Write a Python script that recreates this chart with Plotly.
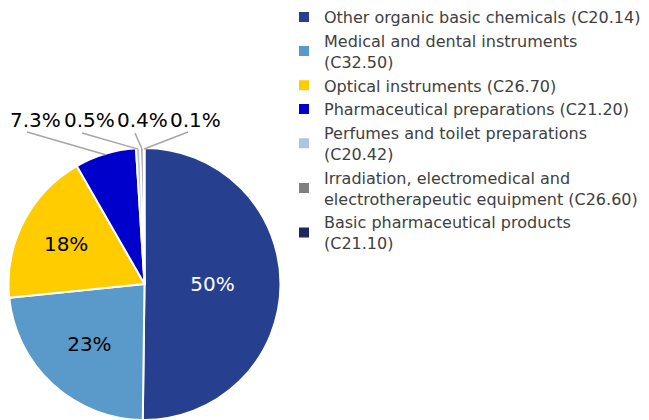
import math
import plotly.graph_objects as go

labels = [
    "Other organic basic chemicals (C20.14)",
    "Medical and dental instruments<br>(C32.50)",
    "Optical instruments (C26.70)",
    "Pharmaceutical preparations (C21.20)",
    "Perfumes and toilet preparations<br>(C20.42)",
    "Irradiation, electromedical and<br>electrotherapeutic equipment (C26.60)",
    "Basic pharmaceutical products<br>(C21.10)",
]
values = [50.2, 23.2, 18.3, 7.3, 0.5, 0.4, 0.1]
colors = ["#26408f", "#5a9aca", "#ffcc00", "#0000cc", "#adc5e0", "#808080", "#1b2a5c"]
text_colors = ["#ffffff", "#000000", "#000000", "#000000", "#000000", "#000000", "#000000"]
positions = ["inside", "inside", "inside", "none", "none", "none", "none"]

# layout of the external labels (pixel positions of label centers and leader-line starts)
ext_label_x = [35, 89, 142.5, 195.5]
ext_label_y = 120
ext_line_start = [(27, 132), (82, 133), (135, 133), (188, 132)]

W, H = 649, 420
cx, cy, r = 144.5, 284, 136

fig = go.Figure(go.Pie(
    labels=labels,
    values=values,
    sort=False,
    direction="clockwise",
    rotation=0,
    marker=dict(colors=colors, line=dict(color="white", width=2)),
    texttemplate="%{percent:.2~p}",
    textposition=positions,
    insidetextorientation="horizontal",
    textfont=dict(family="DejaVu Sans", size=20, color=text_colors),
    domain=dict(x=[(cx - r) / W, (cx + r) / W], y=[max(0, (H - cy - r) / H), (H - cy + r) / H]),
    hoverinfo="label+percent",
))

total = sum(values)
cum = 0.0
mids = []
for v in values:
    mids.append((cum + v / 2) / total)
    cum += v

px = lambda x: x / W
py = lambda y: 1 - y / H

for k, i in enumerate(range(3, 7)):
    pct = values[i] / total * 100
    txt = f"{pct:.1f}%"
    theta = 2 * math.pi * mids[i]
    ex = cx + (r - 1) * math.sin(theta)
    ey = cy - (r - 1) * math.cos(theta)
    sx, sy = ext_line_start[k]
    fig.add_shape(type="line", xref="paper", yref="paper",
                  x0=px(sx), y0=py(sy), x1=px(ex), y1=py(ey),
                  line=dict(color="#a6a6a6", width=1.5))
    fig.add_annotation(x=px(ext_label_x[k]), y=py(ext_label_y), xref="paper", yref="paper",
                       text=txt, showarrow=False, xanchor="center", yanchor="middle",
                       font=dict(family="DejaVu Sans", size=20, color="#000000"))

fig.update_layout(
    width=W, height=H,
    margin=dict(l=0, r=0, t=0, b=0, autoexpand=False),
    paper_bgcolor="white",
    showlegend=True,
    legend=dict(
        x=284 / W, y=1.0, xanchor="left", yanchor="top",
        font=dict(family="DejaVu Sans", size=16, color="#404040"),
        valign="middle",
        traceorder="normal",
    ),
)

fig.write_html("out.html", config={"displayModeBar": False},
               post_script="document.body.style.margin='0';")
